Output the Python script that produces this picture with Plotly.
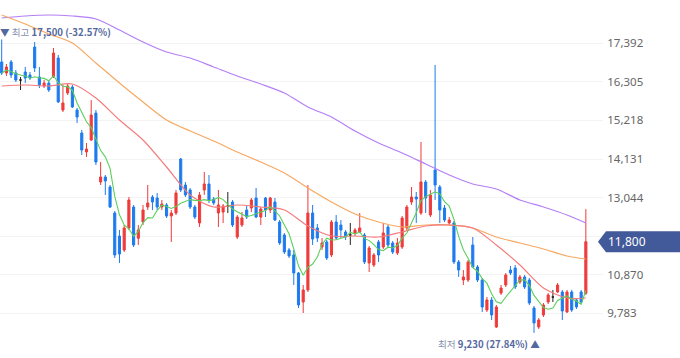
import plotly.graph_objects as go

# ---------------- data ----------------
days = list(range(125))
opens = [16865, 16555, 16865, 16555, 16357, 16583, 16499, 17287, 16442, 16189,
         16273, 16442, 16977, 15512, 15991, 16160, 15512, 14864, 14329, 14667,
         15427, 13483, 13624, 13342, 12609, 11961, 11567, 12187, 12778, 11897,
         12356, 12778, 13060, 13032, 12778, 12835, 12525, 12609, 14131, 13398,
         13258, 12778, 12328, 13258, 13427, 13004, 12609, 12637, 12807, 12919,
         11933, 12271, 12694, 12750, 13032, 12496, 13032, 12694, 12919, 12356,
         11989, 11567, 11426, 10919, 10101, 10440, 12609, 12187, 11651, 11792,
         11426, 12356, 12271, 12074, 11989, 12046, 12074, 11989, 11200, 11144,
         11792, 11651, 12215, 11764, 11482, 11651, 12187, 12919, 13060, 12609,
         13483, 12553, 13821, 13342, 12750, 12328, 12328, 11229, 10721, 10721,
         11708, 11088, 10721, 9876, 10158, 9397, 10355, 10580, 11003, 11060,
         10665, 10806, 10721, 9932, 9397, 9735, 10101, 10242, 10383, 10383,
         9820, 10383, 10158, 10383, 10348]
highs = [17500, 16808, 16921, 16639, 16442, 16724, 16583, 17428, 16724, 16357,
         16357, 17259, 17062, 16217, 16245, 16217, 15569, 14948, 14582, 15794,
         15512, 14047, 13680, 13398, 12666, 12130, 12271, 13060, 12835, 12271,
         12835, 13398, 13117, 13173, 12976, 12891, 12694, 13258, 14160, 13483,
         13314, 12835, 13201, 13765, 13680, 13060, 13258, 12863, 13201, 12976,
         12553, 12637, 12835, 13032, 13314, 12778, 13060, 13060, 13032, 12412,
         12046, 11623, 11567, 10947, 10580, 13398, 12835, 12299, 11905, 11849,
         12412, 12553, 12412, 12130, 12328, 12187, 12609, 12046, 11680, 11482,
         11849, 12328, 12271, 11820, 11905, 12525, 12835, 13342, 13201, 14610,
         13539, 13258, 16780, 13398, 12835, 12496, 12384, 11285, 11003, 11285,
         11933, 11144, 10778, 10242, 10242, 10017, 10580, 10919, 11116, 11144,
         10862, 10862, 10778, 9989, 9651, 10073, 10355, 10440, 10637, 10440,
         10440, 10440, 10214, 10440, 12719]
lows = [16499, 16471, 16414, 16301, 16076, 16273, 16357, 16583, 16132, 16132,
        16020, 16414, 15710, 15456, 15935, 15569, 15146, 14244, 14188, 14639,
        13962, 13398, 13117, 12750, 11341, 11200, 11510, 12130, 11651, 11708,
        12271, 12694, 12694, 12694, 12694, 12468, 11792, 12553, 13201, 13060,
        12722, 12440, 12215, 13117, 12891, 12835, 12215, 12328, 12609, 12215,
        11877, 12215, 12440, 12637, 12468, 12271, 12496, 12609, 12384, 11708,
        11454, 11341, 10580, 9932, 9791, 10383, 11708, 11792, 11567, 11285,
        11369, 11849, 11905, 11849, 11708, 11961, 12046, 11172, 10947, 11088,
        11229, 11595, 11623, 11454, 11426, 11595, 12130, 12835, 12328, 12553,
        12609, 12496, 12976, 12328, 12356, 12271, 11172, 10806, 10580, 10665,
        11060, 10665, 9820, 9820, 9594, 9369, 10299, 10524, 10862, 10468,
        10609, 10468, 10017, 9230, 9341, 9679, 10045, 10101, 10355, 9594,
        9791, 9820, 9904, 10045, 10299]
closes = [16555, 16724, 16499, 16357, 16357, 16414, 16414, 16696, 16217, 16273,
          16076, 17118, 15738, 15710, 16189, 15597, 15315, 14385, 14413, 15371,
          14047, 13624, 13511, 12778, 11426, 11454, 12187, 12976, 11708, 12130,
          12694, 12891, 12919, 12778, 12863, 12525, 12609, 13173, 13258, 13117,
          12778, 12496, 13117, 13427, 12976, 12891, 12835, 12807, 12807, 12271,
          12496, 12468, 12496, 12976, 12496, 12722, 12694, 13032, 12412, 11764,
          11510, 11398, 10919, 10017, 10440, 12609, 11877, 11905, 11764, 11341,
          12356, 11905, 12130, 11933, 11989, 12130, 12187, 11229, 11623, 11426,
          11426, 12046, 11708, 11510, 11764, 12468, 12778, 13060, 13004, 13483,
          13032, 13117, 13398, 12694, 12412, 12412, 11229, 11003, 10806, 11229,
          11088, 10721, 9961, 10158, 9735, 9961, 10496, 10862, 10919, 10524,
          10806, 10524, 10073, 9510, 9594, 10017, 10299, 10242, 10580, 9848,
          10383, 9876, 9961, 10101, 11800]

ma_days = [0, 5, 10, 15, 20, 25, 30, 35, 40, 45, 50, 55, 60, 65, 70, 75, 80,
           85, 90, 95, 100, 105, 110, 115, 120, 124]
ma20 = [16188, 16216, 16188, 16245, 15850, 15230, 14667, 13906, 13117, 12779,
        12835, 12779, 12694, 12243, 11961, 11961, 11933, 12074, 12243, 12271,
        12187, 11708, 11144, 10496, 10214, 10214]
ma60 = [18189, 17935, 17654, 17400, 16836, 16273, 15737, 15230, 14920, 14638,
        14328, 14047, 13737, 13314, 12919, 12581, 12356, 12215, 12271, 12271,
        12187, 11933, 11764, 11595, 11398, 11313]
ma120 = [18105, 18161, 18189, 18161, 18076, 17766, 17428, 17146, 16977, 16724,
         16470, 16245, 15991, 15597, 15315, 14920, 14582, 14300, 13990, 13680,
         13427, 13286, 12976, 12779, 12553, 12328]

tick_vals = [9783, 10870, 11957, 13044, 14131, 15218, 16305, 17392]
tick_text = ["9,783", "10,870", "11,957", "13,044", "14,131", "15,218", "16,305", "17,392"]

high_value, high_day, high_pct = 17500, 0, "-32.57%"
low_value, low_day, low_pct = 9230, 113, "27.84%"
last_price = closes[-1]

# ---------------- styling ----------------
RED = "#ef3b3b"
BLUE = "#1e7bee"
BLACK = "#222222"
Y_MIN, Y_MAX = 8523, 18612
X_MIN, X_MAX = -0.36, 127.64
W, H = 680, 358
ML, MR = 0, 77
PLOT_W = W - ML - MR
FONT_TXT = "Noto Sans CJK KR, Noto Sans"

# 5-day moving average derived from the closes
ma5 = []
for i in range(len(closes)):
    win = closes[max(0, i - 4): i + 1]
    ma5.append(sum(win) / len(win))

fig = go.Figure()


def add_candles(idx, color):
    if not idx:
        return
    fig.add_trace(go.Candlestick(
        x=[days[i] for i in idx],
        open=[opens[i] for i in idx],
        high=[highs[i] for i in idx],
        low=[lows[i] for i in idx],
        close=[closes[i] for i in idx],
        increasing=dict(line=dict(color=color, width=1), fillcolor=color),
        decreasing=dict(line=dict(color=color, width=1), fillcolor=color),
        whiskerwidth=0,
        hoverinfo="skip",
    ))


up = [i for i in days if closes[i] > opens[i]]
down = [i for i in days if closes[i] < opens[i]]
flat = [i for i in days if closes[i] == opens[i]]
add_candles(up, RED)
add_candles(down, BLUE)
add_candles(flat, BLACK)

for vals, col in [(ma120, "#b47ff6"), (ma60, "#f7a862"), (ma20, "#f47c7c")]:
    fig.add_trace(go.Scatter(x=ma_days, y=vals, mode="lines",
                             line=dict(color=col, width=1.2, shape="spline", smoothing=0.8),
                             hoverinfo="skip"))
fig.add_trace(go.Scatter(x=days, y=ma5, mode="lines",
                         line=dict(color="#5ccf5c", width=1.1),
                         hoverinfo="skip"))

# price label on the right axis
yp = (last_price - Y_MIN) / (Y_MAX - Y_MIN)
hh = 10.5 / H
tip = 598 / PLOT_W
left = 606 / PLOT_W
right = (W + 5) / PLOT_W
fig.add_shape(type="path", xref="paper", yref="paper",
              path=f"M {tip},{yp} L {left},{yp + hh} L {right},{yp + hh} L {right},{yp - hh} L {left},{yp - hh} Z",
              fillcolor="#42599a", line=dict(width=0), layer="above")
fig.add_annotation(xref="paper", yref="paper", x=626.5 / PLOT_W, y=yp,
                   text=f"{last_price:,}", showarrow=False,
                   font=dict(color="white", size=12, family="Noto Sans"),
                   xanchor="center", yanchor="middle")

fig.add_annotation(x=X_MIN, y=high_value, xref="x", yref="y",
                   text=f"<span style='color:#5468a0'>▼</span> <span style='color:#8790ad'>최고</span> "
                        f"<b>{high_value:,} ({high_pct})</b>",
                   showarrow=False, xanchor="left", yanchor="bottom", xshift=-2, yshift=-2,
                   font=dict(size=9.6, color="#5468a0", family=FONT_TXT))
fig.add_annotation(x=low_day + 1.6, y=low_value, xref="x", yref="y",
                   text=f"<span style='color:#8790ad'>최저</span> <b>{low_value:,} ({low_pct})</b> "
                        f"<span style='color:#5468a0'>▲</span>",
                   showarrow=False, xanchor="right", yanchor="top", yshift=-2,
                   font=dict(size=9.6, color="#5468a0", family=FONT_TXT))

fig.update_layout(
    width=W, height=H,
    margin=dict(l=ML, r=MR, t=0, b=0),
    paper_bgcolor="white", plot_bgcolor="white",
    showlegend=False,
    boxgap=0.36,
    xaxis=dict(range=[X_MIN, X_MAX], visible=False, rangeslider=dict(visible=False),
               fixedrange=True),
    yaxis=dict(side="right", range=[Y_MIN, Y_MAX], tickvals=tick_vals, ticktext=tick_text,
               showgrid=True, gridcolor="#f3f3f3", gridwidth=1, zeroline=False,
               showline=False, ticks="outside", ticklen=1, tickcolor="rgba(0,0,0,0)",
               tickfont=dict(size=11.5, color="#666666", family="Noto Sans"),
               fixedrange=True),
)

fig.write_html("out.html", config={"displayModeBar": False},
               post_script="document.body.style.margin='0px';")
